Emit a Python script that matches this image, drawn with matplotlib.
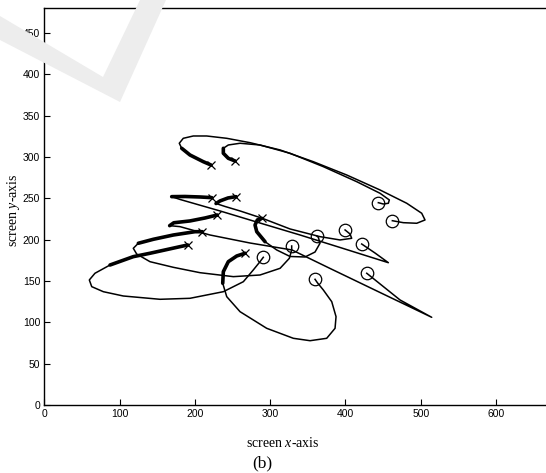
import matplotlib
matplotlib.use("Agg")
import matplotlib.pyplot as plt
from matplotlib.patches import Polygon

plt.rcParams['font.family'] = ['Liberation Sans', 'DejaVu Sans']
plt.rcParams['mathtext.fontset'] = 'custom'
plt.rcParams['mathtext.rm'] = 'Liberation Serif'
plt.rcParams['mathtext.it'] = 'Liberation Serif:italic'

# screen trajectories: first point = start (x marker), last point = target (o marker)
t1_x = [221.4, 211.2, 193.5, 182.5, 179.3, 184.6, 197.9, 215.7, 242.3, 273.3, 313.2, 357.3, 401.7, 445.9, 481.4, 501.3, 505.7, 494.7, 476.9, 462.3]
t1_y = [290.4, 294.4, 302.5, 310.6, 316.7, 322.7, 325.5, 325.5, 322.7, 317.4, 308.6, 294.4, 278.3, 260.2, 244.1, 232.0, 223.9, 219.9, 220.6, 223.0]

t2_x = [253.3, 244.4, 237.8, 237.8, 244.4, 260.0, 286.5, 326.4, 370.6, 415.0, 445.9, 458.3, 457.0, 450.3, 443.7]
t2_y = [295.3, 298.5, 304.6, 310.6, 314.6, 316.7, 314.6, 304.6, 288.4, 270.2, 256.2, 248.1, 244.1, 243.2, 244.8]

t3_x = [222.4, 206.8, 186.9, 169.2, 180.3, 233.4, 286.5, 339.7, 392.8, 457.0, 439.3, 421.6]
t3_y = [250.9, 251.7, 252.3, 252.1, 248.7, 234.8, 220.2, 205.7, 190.6, 172.2, 183.9, 194.8]

t4_x = [254.7, 244.0, 233.4, 228.1, 240.1, 260.0, 289.6, 326.4, 366.2, 392.8, 408.3, 406.1, 399.5]
t4_y = [252.1, 250.5, 246.9, 243.8, 240.2, 234.8, 225.9, 213.0, 203.7, 199.7, 201.7, 206.9, 211.8]

t5_x = [229.8, 213.5, 193.5, 172.0, 166.5, 180.3, 220.1, 273.3, 329.0, 379.6, 446.0, 514.6, 472.5, 428.3]
t5_y = [229.9, 226.3, 222.7, 220.5, 217.0, 215.8, 205.7, 196.0, 187.6, 165.2, 136.1, 106.1, 127.1, 159.4]

t6_x = [288.8, 283.0, 279.9, 282.2, 293.2, 308.7, 326.4, 346.3, 359.6, 366.2, 364.0, 361.9]
t6_y = [225.9, 223.9, 217.8, 209.7, 197.6, 187.6, 179.7, 179.1, 185.1, 195.7, 202.9, 204.5]

t7_x = [209.9, 200.2, 171.4, 144.8, 124.9, 118.2, 122.7, 140.4, 171.4, 206.8, 251.1, 286.5, 313.2, 325.5, 328.6, 328.6]
t7_y = [209.7, 209.7, 205.7, 200.5, 195.7, 189.6, 182.7, 173.4, 166.6, 160.1, 155.3, 157.3, 165.4, 177.5, 187.6, 192.4]

t8_x = [190.5, 180.3, 140.4, 118.2, 87.3, 67.3, 59.8, 63.0, 78.4, 104.9, 153.7, 193.5, 237.8, 264.4, 277.6, 286.5, 290.9]
t8_y = [193.6, 191.6, 183.6, 179.5, 169.4, 159.4, 151.3, 143.2, 137.1, 131.9, 127.9, 129.1, 137.1, 149.2, 163.4, 173.4, 178.7]

t9_x = [266.6, 255.6, 244.4, 237.8, 237.0, 242.3, 260.0, 295.4, 330.8, 353.0, 375.1, 386.2, 387.5, 381.8, 370.6, 362.7, 359.6]
t9_y = [183.6, 180.3, 173.4, 161.3, 147.3, 131.1, 112.9, 92.8, 80.7, 77.8, 80.7, 92.8, 106.9, 125.0, 139.2, 148.0, 152.1]

trajectories = [(t1_x, t1_y), (t2_x, t2_y), (t3_x, t3_y), (t4_x, t4_y), (t5_x, t5_y),
                (t6_x, t6_y), (t7_x, t7_y), (t8_x, t8_y), (t9_x, t9_y)]
# the slow start of each movement shows up as a heavier stroke
thick_n = [4, 4, 4, 4, 5, 5, 5, 5, 5]

x_ticks = [0, 100, 200, 300, 400, 500, 600]
y_ticks = [0, 50, 100, 150, 200, 250, 300, 350, 400, 450]

W, H = 546, 473
fig = plt.figure(figsize=(W / 100, H / 100), dpi=100)

# faint watermark behind the plot (pixel outline)
wm = [(0, 16), (103, 77), (140, 0), (166, 0), (120, 102), (0, 40)]
fig.patches.append(Polygon([(px / W, 1 - py / H) for px, py in wm], closed=True,
                           transform=fig.transFigure, facecolor='#ededed',
                           edgecolor='none', zorder=0))

ax = fig.add_axes([44.3 / W, 68 / H, 527 / W, 396.7 / H])
ax.set_facecolor('none')

for (tx, ty), n in zip(trajectories, thick_n):
    ax.plot(tx, ty, color='black', lw=1.1, solid_joinstyle='round', zorder=2)
    ax.plot(tx[:n], ty[:n], color='black', lw=2.6, solid_capstyle='round', zorder=2)
    ax.plot(tx[0], ty[0], marker='x', ms=6, mew=0.9, color='black', zorder=3)
    ax.plot(tx[-1], ty[-1], marker='o', ms=9, mew=0.9, mfc='none', mec='black', zorder=3)

ax.set_xlim(0, 700)
ax.set_ylim(0, 480)
ax.set_xticks(x_ticks)
ax.set_yticks(y_ticks)
ax.tick_params(direction='in', length=4, width=0.8, labelsize=7.5, pad=3,
               top=False, right=False)
for lbl in ax.get_xticklabels() + ax.get_yticklabels():
    lbl.set_fontfamily(['Liberation Sans', 'DejaVu Sans'])
for s in ax.spines.values():
    s.set_linewidth(1.0)

fig.text(283 / W, 1 - 443 / H, 'screen $x$-axis', ha='center', va='center',
         fontsize=10, family='Liberation Serif')
fig.text(14 / W, 1 - 210 / H, 'screen $y$-axis', ha='center', va='center',
         rotation=90, fontsize=10, family='Liberation Serif')
fig.text(262 / W, 1 - 463 / H, '(b)', ha='center', va='center',
         fontsize=12.5, family='Liberation Serif')

fig.savefig('out.png', dpi=100)
